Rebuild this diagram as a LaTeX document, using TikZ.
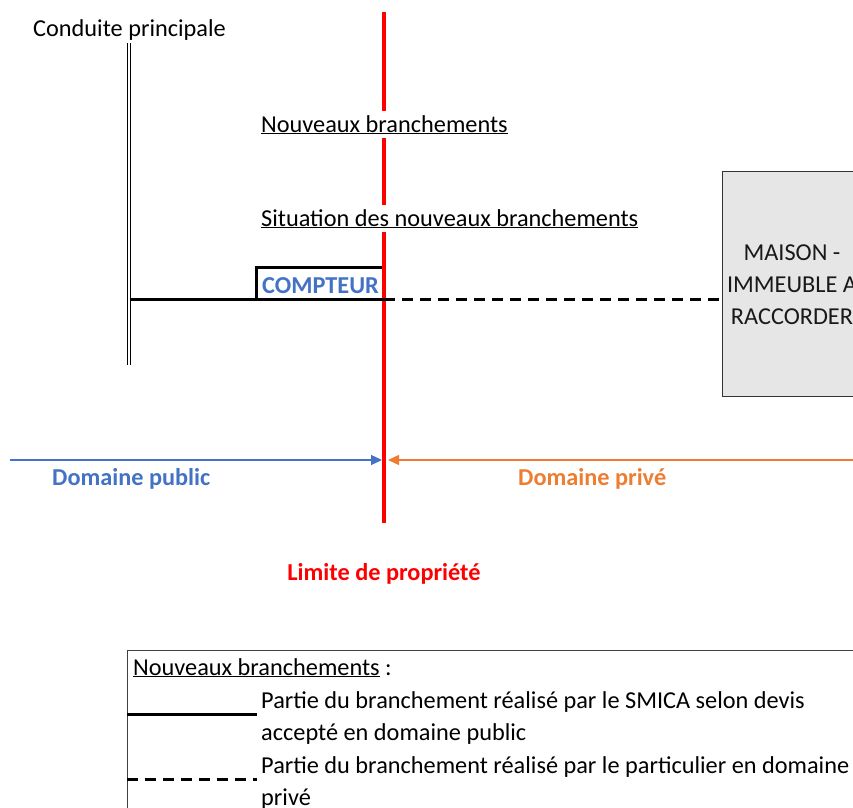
\documentclass[tikz,border=0pt]{standalone}
\usepackage{fontspec}
\setmainfont{Carlito}
\usetikzlibrary{arrows.meta}
\definecolor{xlblue}{HTML}{4472C4}
\definecolor{xlorange}{HTML}{ED7D31}
\definecolor{housefill}{HTML}{E6E6E6}
\begin{document}
\begin{tikzpicture}[x=1pt,y=-1pt,
  font=\fontsize{24.3}{32}\selectfont,
  txt/.style={inner sep=0pt, anchor=base west},
  pipe/.style={line width=3pt},
  privpipe/.style={line width=3pt, dash pattern=on 11pt off 7pt},
  boldlbl/.style={inner sep=0pt, anchor=base west, font=\fontsize{24.3}{32}\selectfont\bfseries},
  dom/.style={line width=1.3pt, -{Triangle[length=11pt,width=10pt]}},
]
\useasboundingbox (0,0) rectangle (853,807);
\clip (0,0) rectangle (853,807);

% main pipe (double line)
\coordinate (mtop) at (129,43);
\coordinate (mbot) at (129,365);
\draw[line width=1pt, double, double distance=2pt] (mtop) -- (mbot);
\node[txt] (cond) at (33,36) {Conduite principale};

% red property limit
\coordinate (rtop) at (384,12);
\coordinate (rbot) at (384,523);
\draw[red, line width=4pt] (rtop) -- (rbot);

% texts (opaque, over the red line)
\node[txt, fill=white, inner ysep=4pt] (nb) at (261,132) {\underline{Nouveaux branchements}};
\node[txt, fill=white, inner ysep=4pt] (sit) at (261,226) {\underline{Situation des nouveaux branchements}};

% house
\node[draw=black!80, line width=1.3pt, fill=housefill, minimum width=150pt, minimum height=225pt, anchor=north west, inner sep=0pt] (house) at (722,171) {};
\node[align=center, text=black!90, inner sep=0pt] (htxt) at (792,285) {MAISON -\\IMMEUBLE A\\RACCORDER};

% pipes
\coordinate (junc) at (131,299);
\coordinate (lim) at (384,299);
\draw[pipe] (junc) -- (lim);
\draw[privpipe] (lim) -- (house.west |- lim);

% compteur
\draw[line width=3pt] (256,299) -- (256,267) -- (382,267);
\node[boldlbl, text=xlblue] (cpt) at (262,293) {COMPTEUR};

% domains
\coordinate (bstart) at (10,460);
\coordinate (bend) at (382,460);
\coordinate (ostart) at (860,460);
\coordinate (oend) at (388,460);
\draw[dom, xlblue] (bstart) -- (bend);
\draw[dom, xlorange] (ostart) -- (oend);
\node[boldlbl, text=xlblue] (dpub) at (52,485) {Domaine public};
\node[boldlbl, text=xlorange] (dpriv) at (518,485) {Domaine privé};
\node[inner sep=0pt, anchor=base, font=\fontsize{24.3}{32}\selectfont\bfseries, text=red] (lim2) at (384,580) {Limite de propriété};

% legend
\node[draw=black!75, line width=1pt, minimum width=800pt, minimum height=300pt, anchor=north west, inner sep=0pt] (leg) at (127,650) {};
\node[txt] (lt) at (133,675) {\underline{Nouveaux branchements} :};
\coordinate (s1) at (127,714);
\coordinate (s2) at (257,714);
\draw[pipe] (s1) -- (s2);
\node[txt] (l1) at (261,708) {Partie du branchement réalisé par le SMICA selon devis};
\node[txt] (l2) at (261,740) {accepté en domaine public};
\coordinate (d1) at (127,779);
\coordinate (d2) at (257,779);
\draw[privpipe] (d1) -- (d2);
\node[txt] (l3) at (261,773) {Partie du branchement réalisé par le particulier en domaine};
\node[txt] (l4) at (261,805) {privé};
\end{tikzpicture}
\end{document}
